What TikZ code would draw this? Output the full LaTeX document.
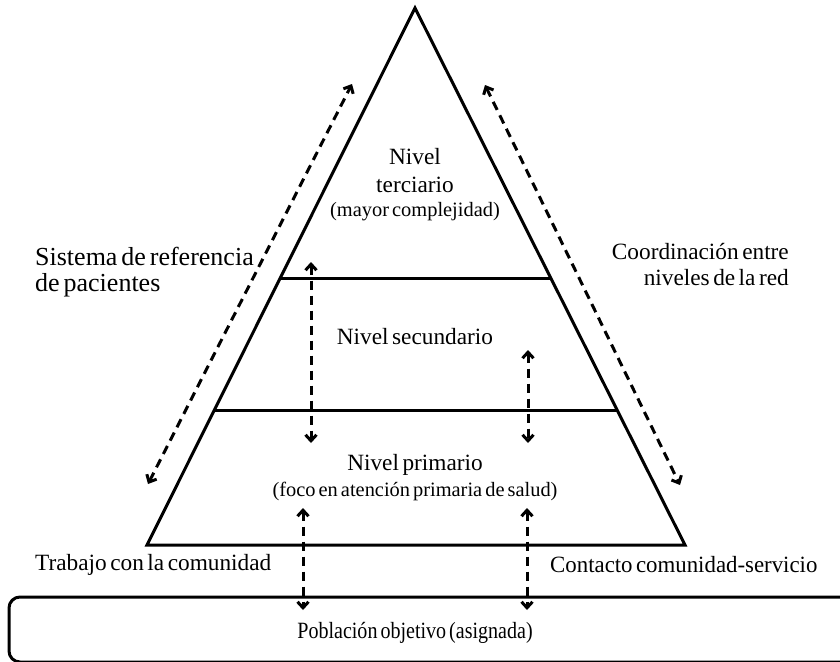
\documentclass[tikz,border=0pt]{standalone}
\usepackage{fontspec}
\setmainfont{Liberation Serif}[WordSpace=0.6]
\usetikzlibrary{arrows.meta}
\begin{document}
\begin{tikzpicture}[x=1pt,y=-1pt,
  solidline/.style={line width=3pt},
  dasharrow/.style={line width=3pt, dash pattern=on 9pt off 6pt,
    {Straight Barb[length=6pt,width=11pt]}-{Straight Barb[length=6pt,width=11pt]}},
  big/.style={font=\fontsize{23.3}{26}\selectfont, inner sep=0pt},
  large/.style={font=\fontsize{26}{26}\selectfont, inner sep=0pt},
  small/.style={font=\fontsize{20.4}{22}\selectfont, inner sep=0pt}]
\useasboundingbox (0,0) rectangle (840,661);
% pyramid
\coordinate (apex) at (415,8);
\coordinate (bl) at (147,545);
\coordinate (br) at (685,545);
\draw[solidline, line join=miter] (bl) -- (apex) -- (br) -- cycle;
\coordinate (u1) at (281,278);
\coordinate (u2) at (551,278);
\coordinate (l1) at (213,410);
\coordinate (l2) at (617,410);
\draw[solidline] (u1) -- (u2);
\draw[solidline] (l1) -- (l2);
% population box
\coordinate (b1) at (870,597);
\coordinate (b2) at (9,597);
\coordinate (b3) at (9,662);
\coordinate (b4) at (870,662);
\draw[solidline, rounded corners=11pt] (b1) -- (b2) -- (b3) -- (b4);
% texts
\node[big] (n3a) at (415,157) {Nivel};
\node[big] (n3b) at (415,185) {terciario};
\node[small] (n3c) at (415,212) {(mayor complejidad)};
\node[big] (n2) at (415,337) {Nivel secundario};
\node[big] (n1a) at (415,465) {Nivel primario};
\node[small] (n1b) at (415,491) {(foco en atención primaria de salud)};
\node[large, anchor=west, align=left] (sref) at (35,272) {Sistema de referencia\\de pacientes};
\node[big, anchor=east, align=right] (coord) at (789,265) {Coordinación entre\\niveles de la red};
\node[big, anchor=west] (trab) at (35,565) {Trabajo con la comunidad};
\node[big, anchor=west] (cont) at (550,565) {\scalebox{0.98}[1]{Contacto comunidad-servicio}};
\node[big] (pop) at (415,633) {\scalebox{0.86}[1]{Población objetivo (asignada)}};
% dashed arrows
\coordinate (dl1) at (148,484);
\coordinate (dl2) at (352,84);
\coordinate (dr1) at (485,85);
\coordinate (dr2) at (680,485);
\coordinate (v1a) at (311,262);
\coordinate (v1b) at (311,443);
\coordinate (v2a) at (528,350);
\coordinate (v2b) at (528,443);
\coordinate (w1a) at (303,508);
\coordinate (w1b) at (303,610);
\coordinate (w2a) at (527,508);
\coordinate (w2b) at (527,610);
\draw[dasharrow] (dl1) -- (dl2);
\draw[dasharrow] (dr1) -- (dr2);
\draw[dasharrow] (v1a) -- (v1b);
\draw[dasharrow] (v2a) -- (v2b);
\draw[dasharrow] (w1a) -- (w1b);
\draw[dasharrow] (w2a) -- (w2b);
\end{tikzpicture}
\end{document}
